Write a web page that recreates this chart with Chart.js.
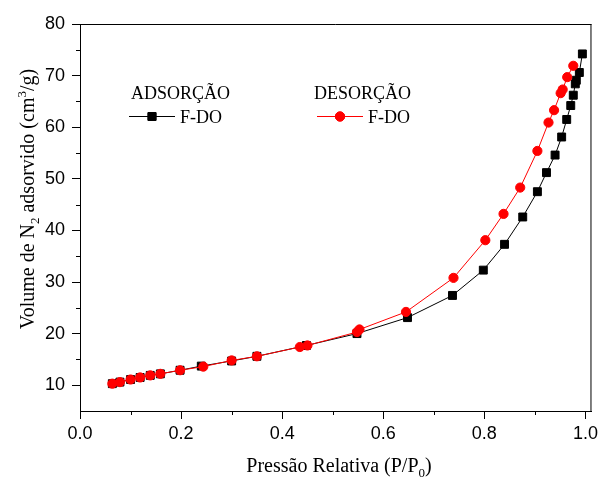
<!DOCTYPE html>
<html><head><meta charset="utf-8">
<script src="https://cdn.jsdelivr.net/npm/chart.js@4.4.0/dist/chart.umd.min.js"></script>
<style>html,body{margin:0;padding:0;background:#fff}#wrap{width:602px;height:479px;position:relative}</style>
</head><body><div id="wrap"><canvas id="c" width="602" height="479"></canvas></div>
<script>
// Adsorption branch (P/P0, volume)
const adsP = [0.064,0.079,0.100,0.119,0.139,0.159,0.198,0.240,0.300,0.350,0.448,0.548,0.648,0.737,0.798,0.840,0.876,0.905,0.923,0.940,0.953,0.963,0.971,0.976,0.980,0.982,0.988,0.994];
const adsV = [10.3,10.6,11.1,11.5,11.9,12.2,12.9,13.7,14.7,15.6,17.7,20.0,23.1,27.4,32.3,37.3,42.6,47.5,51.2,54.6,58.1,61.5,64.2,66.2,68.4,69.1,70.6,74.2];
// Desorption branch
const desP = [0.976,0.964,0.955,0.951,0.938,0.927,0.905,0.871,0.838,0.802,0.739,0.645,0.553,0.548,0.450,0.435,0.350,0.300,0.244,0.198,0.159,0.139,0.119,0.100,0.079,0.064];
const desV = [71.9,69.7,67.3,66.6,63.3,60.9,55.4,48.3,43.2,38.1,30.8,24.2,20.8,20.3,17.7,17.4,15.6,14.8,13.6,12.9,12.2,11.9,11.5,11.1,10.6,10.3];
const seriesNames = ['ADSORÇÃO','DESORÇÃO'];
const sampleName = 'F-DO';
const xTitle = ['Pressão Relativa (P/P','0',')'];
const yTitle = ['Volume de N','2',' adsorvido (cm','3','/g)'];

const toPts = (xs, ys) => xs.map((x, i) => ({x: x, y: ys[i]}));
const SERIF = '"Liberation Serif", "Times New Roman", serif';
const SANS = '"Liberation Sans", Arial, sans-serif';

const decor = {
  id: 'decor',
  afterDraw(chart) {
    const ctx = chart.ctx, a = chart.chartArea;
    const xs = chart.scales.x, ys = chart.scales.y;
    ctx.save();
    ctx.strokeStyle = '#000'; ctx.lineWidth = 1;
    // frame top and right
    ctx.beginPath();
    ctx.moveTo(a.left, a.top + 0.5); ctx.lineTo(a.right, a.top + 0.5);
    ctx.moveTo(a.right - 0.5, a.top); ctx.lineTo(a.right - 0.5, a.bottom);
    ctx.stroke();
    // minor ticks
    ctx.beginPath();
    for (let k = 1; k <= 9; k += 2) {
      const px = Math.round(xs.getPixelForValue(k / 10)) + 0.5;
      ctx.moveTo(px, a.bottom); ctx.lineTo(px, a.bottom + 4);
    }
    for (let v = 15; v <= 75; v += 10) {
      const py = Math.round(ys.getPixelForValue(v)) + 0.5;
      ctx.moveTo(a.left, py); ctx.lineTo(a.left - 4, py);
    }
    ctx.stroke();

    // axis titles with sub/superscripts
    function drawRich(parts, kinds, x, y) {
      const big = '20px ' + SERIF, small = '13px ' + SERIF;
      let w = 0;
      const ws = parts.map((t, i) => { ctx.font = kinds[i] === 'n' ? big : small; const m = ctx.measureText(t).width; w += m; return m; });
      let cx = x - w / 2;
      ctx.textBaseline = 'alphabetic'; ctx.textAlign = 'left';
      parts.forEach((t, i) => {
        ctx.font = kinds[i] === 'n' ? big : small;
        const dy = kinds[i] === 'sub' ? 5 : (kinds[i] === 'sup' ? -8 : 0);
        ctx.fillText(t, cx, y + dy);
        cx += ws[i];
      });
    }
    ctx.fillStyle = '#000';
    drawRich(xTitle, ['n','sub','n'], 339, 472);
    ctx.save();
    ctx.translate(34, 199);
    ctx.rotate(-Math.PI / 2);
    drawRich(yTitle, ['n','sub','n','sup','n'], 0, 0);
    ctx.restore();

    // legend
    const d0 = chart.data.datasets[1], d1 = chart.data.datasets[0];
    ctx.font = '18px ' + SERIF;
    ctx.fillStyle = '#000';
    ctx.fillText(seriesNames[0], 131, 99);
    ctx.fillText(seriesNames[1], 314, 99);
    ctx.fillText(sampleName, 180, 123);
    ctx.fillText(sampleName, 368, 123);
    ctx.lineWidth = 1;
    ctx.strokeStyle = d0.borderColor;
    ctx.beginPath(); ctx.moveTo(129, 116.5); ctx.lineTo(175, 116.5); ctx.stroke();
    ctx.fillStyle = d0.pointBackgroundColor; ctx.strokeStyle = d0.pointBorderColor;
    ctx.beginPath();
    Chart.helpers.drawPoint(ctx, {pointStyle: 'rect', radius: d0.pointRadius, borderWidth: 1}, 152, 116.5);
    ctx.fill(); ctx.stroke();
    ctx.strokeStyle = d1.borderColor;
    ctx.beginPath(); ctx.moveTo(317, 116.5); ctx.lineTo(363, 116.5); ctx.stroke();
    ctx.fillStyle = d1.pointBackgroundColor; ctx.strokeStyle = d1.pointBorderColor;
    ctx.beginPath();
    Chart.helpers.drawPoint(ctx, {pointStyle: 'circle', radius: d1.pointRadius, borderWidth: 1}, 340, 116.5);
    ctx.fill(); ctx.stroke();
    ctx.restore();
  }
};

new Chart(document.getElementById('c'), {
  type: 'scatter',
  data: {
    datasets: [
      {
        label: seriesNames[1] + ' ' + sampleName,
        data: toPts(desP, desV),
        showLine: true,
        borderColor: '#ff0000', borderWidth: 1,
        pointStyle: 'circle', pointRadius: 4.6,
        pointBackgroundColor: '#ff0000', pointBorderColor: '#ff0000', pointBorderWidth: 1,
        order: 0
      },
      {
        label: seriesNames[0] + ' ' + sampleName,
        data: toPts(adsP, adsV),
        showLine: true,
        borderColor: '#000000', borderWidth: 1,
        pointStyle: 'rect', pointRadius: 5.6,
        pointBackgroundColor: '#000000', pointBorderColor: '#000000', pointBorderWidth: 1,
        order: 1
      }
    ]
  },
  options: {
    responsive: false,
    animation: false,
    devicePixelRatio: 1,
    layout: {padding: {top: 24, right: 7, left: 0, bottom: 0}},
    plugins: {legend: {display: false}, tooltip: {enabled: false}},
    scales: {
      x: {
        type: 'linear', min: 0, max: 1.012,
        afterFit: s => { s.height = 68; },
        border: {display: true, color: '#000', width: 1},
        grid: {
          drawOnChartArea: false, drawTicks: true, tickLength: 8, lineWidth: 1,
          color: c => (c.tick && Math.round(c.tick.value * 10) % 2 === 0) ? '#000' : 'rgba(0,0,0,0)'
        },
        ticks: {
          stepSize: 0.1, includeBounds: false, autoSkip: false, maxRotation: 0, padding: 4,
          color: '#000', font: {family: SANS, size: 18},
          callback: v => (Math.round(v * 10) % 2 === 0) ? v.toFixed(1) : ''
        }
      },
      y: {
        type: 'linear', min: 5, max: 80,
        afterFit: s => { s.width = 80; },
        border: {display: true, color: '#000', width: 1},
        grid: {
          drawOnChartArea: false, drawTicks: true, tickLength: 8, lineWidth: 1,
          color: c => (c.tick && Math.round(c.tick.value) % 10 === 0) ? '#000' : 'rgba(0,0,0,0)'
        },
        ticks: {
          stepSize: 5, includeBounds: false, autoSkip: false, padding: 7,
          color: '#000', font: {family: SANS, size: 18},
          callback: v => (Math.round(v) % 10 === 0) ? String(v) : ''
        }
      }
    }
  },
  plugins: [decor]
});
</script>
</body></html>
